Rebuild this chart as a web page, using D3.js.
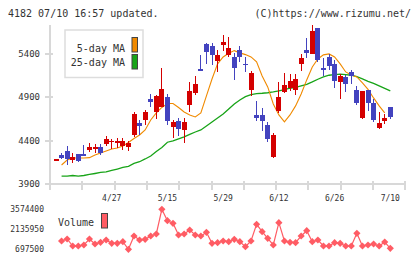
<!DOCTYPE html>
<html>
<head>
<meta charset="utf-8">
<script src="https://d3js.org/d3.v7.min.js"></script>
<style>
body { margin: 0; background: #fff; }
svg text { font-family: "DejaVu Sans Mono", monospace; fill: #333; }
</style>
</head>
<body>
<svg id="chart" width="420" height="259"></svg>
<script>
// daily prices, oldest first (index 0 = first candle)
const openP = [4185,4235,4281,4177,4246,4246,4293,4308,4331,4362,4381,4370,4339,4323,4466,4600,4639,4881,4735,4793,
  4901,4562,4631,4524,4808,4954,5228,5517,5493,5324,5505,5393,5366,5447,5285,4985,4697,4697,4581,4208,
  4743,4966,5004,4985,5289,5447,5405,5698,5236,5370,5285,5077,5139,5197,4985,4658,4985,4831,4550,4631,4785];
const highP = [4185,4261,4339,4254,4246,4350,4377,4362,4365,4454,4416,4428,4431,4400,4735,4639,4754,4939,4928,5236,
  4939,4639,4662,4658,5081,5147,5389,5532,5524,5447,5620,5594,5409,5493,5370,5204,4858,4774,4619,4493,
  5081,5185,5170,5170,5401,5582,5736,5698,5351,5397,5332,5170,5158,5216,5031,4974,4985,4881,4731,4708,4785];
const lowP = [4185,4185,4119,4139,4157,4227,4266,4254,4235,4339,4300,4312,4293,4285,4439,4466,4581,4785,4647,4793,
  4581,4427,4458,4377,4735,4928,5208,5285,5274,5197,5439,5362,5101,5305,5197,4916,4631,4516,4389,4197,
  4723,4954,4974,4928,5208,5351,5405,5312,5147,5216,5004,4881,4966,5054,4812,4650,4746,4619,4535,4593,4650];
const closeP = [4185,4204,4185,4212,4169,4227,4331,4323,4254,4420,4400,4400,4397,4370,4708,4570,4731,4850,4916,4993,
  4631,4612,4535,4612,4977,5054,5208,5424,5393,5393,5540,5470,5243,5370,5270,5185,4666,4631,4423,4466,
  4901,5043,5089,5108,5355,5416,5667,5332,5216,5266,5093,5147,5054,5147,4839,4974,4839,4639,4600,4662,4673];

// moving averages, from index 1
const ma5 = [null,4119,4177,4200,4200,4200,4204,4235,4258,4281,4304,4316,4339,4379,4425,4466,4524,4639,4720,4783,
  4829,4829,4783,4731,4697,4674,4720,4916,5112,5286,5366,5409,5439,5413,5393,5366,5309,5147,5020,4824,
  4697,4616,4697,4801,4939,5101,5251,5343,5390,5401,5366,5286,5193,5158,5135,5066,4991,4893,4801,4720,null];
const ma25 = [null,3992,3992,3998,3992,3998,4010,4021,4033,4039,4056,4073,4091,4104,4137,4157,4189,4223,4275,4321,
  4382,4397,4420,4443,4472,4500,4524,4570,4616,4662,4708,4766,4824,4870,4908,4931,4943,4947,4953,4962,
  4974,4989,5005,5014,5032,5049,5078,5109,5135,5155,5162,5167,5162,5155,5138,5112,5084,5061,5032,5003,4974];

const volume = [null,1294500,1438300,934800,934800,1006800,1438300,1078700,1201000,1366400,1129000,1129000,1244100,697500,1654100,1366400,1416600,1654100,1797900,3574400,
  2754500,2567500,1726000,1797900,2085600,1726000,1654100,1920200,1129000,1172200,1294500,1244100,1416700,1244100,884500,1294500,2495500,1963300,1488600,1006800,
  2610700,1294500,1201000,1172200,1654100,2035300,1244100,1366400,934800,934800,1172200,1129000,934800,934800,1848300,934800,1006800,1078700,934800,1222500,769400];

const dateLabels = ["4/27", "5/15", "5/29", "6/12", "6/26", "7/10"];
const dateIndex = [10, 20, 30, 40, 50, 60];
const priceTicks = [3900, 4400, 4900, 5400];
const volTicks = [697500, 2135950, 3574400];

const RED = "#d40000", BLUE = "#4343bf", ORANGE = "#f08a00", GREEN = "#18a418", VOL = "#ff5c64", AXIS = "#d8d8d8";

const svg = d3.select("#chart");
svg.append("rect").attr("width", 420).attr("height", 259).attr("fill", "#fff");

let x = d3.scaleLinear().domain([0, 60]).range([56, 390.3]);
let y = d3.scaleLinear().domain([3900, 5400]).range([184, 54]);
let yv = d3.scaleLinear().domain([697500, 3574400]).range([249.3, 209.3]);
let grid = d3.scaleLinear().domain([0, 11]).range([50, 405.3]);

// header
svg.append("text").attr("x", 8).attr("y", 16.5).attr("font-size", 10).text("4182 07/10 16:57 updated.");
svg.append("text").attr("x", 411).attr("y", 16.5).attr("font-size", 10).attr("text-anchor", "end").text("(C)https://www.rizumu.net/");

// axes
let axis = svg.append("g").attr("stroke", AXIS).attr("stroke-width", 2).attr("shape-rendering", "crispEdges");
axis.append("line").attr("x1", 50).attr("x2", 50).attr("y1", 25).attr("y2", 190);
axis.append("line").attr("x1", 45).attr("x2", grid(11)).attr("y1", y(3900)).attr("y2", y(3900));
axis.selectAll(".xt").data(d3.range(12)).join("line")
    .attr("x1", d => grid(d)).attr("x2", d => grid(d)).attr("y1", 181).attr("y2", 190);
axis.selectAll(".yt").data(priceTicks).join("line")
    .attr("x1", 45).attr("x2", 53).attr("y1", d => y(d)).attr("y2", d => y(d));

svg.selectAll(".plab").data(priceTicks).join("text")
    .attr("x", 40).attr("y", d => y(d)).attr("dy", "0.35em").attr("font-size", 9)
    .attr("text-anchor", "end").text(d => d);

svg.selectAll(".dlab").data(dateIndex).join("text")
    .attr("x", d => x(d)).attr("y", 200.5).attr("font-size", 8)
    .attr("text-anchor", "middle").text((d, i) => dateLabels[i]);

// legend
let leg = svg.append("g");
leg.append("rect").attr("x", 65).attr("y", 30).attr("width", 78).attr("height", 47.5)
    .attr("fill", "#fff").attr("stroke", "#ddd").attr("stroke-width", 1.5);
leg.append("text").attr("x", 125).attr("y", 51.5).attr("font-size", 10).attr("text-anchor", "end").text("5-day MA");
leg.append("text").attr("x", 125).attr("y", 66).attr("font-size", 10).attr("text-anchor", "end").text("25-day MA");
leg.append("rect").attr("x", 132).attr("y", 37.5).attr("width", 5.5).attr("height", 14.5)
    .attr("fill", ORANGE).attr("stroke", "#444").attr("stroke-width", 1);
leg.append("rect").attr("x", 132).attr("y", 54.5).attr("width", 5.5).attr("height", 14.5)
    .attr("fill", GREEN).attr("stroke", "#444").attr("stroke-width", 1);

// moving average lines
let maLine = d3.line().defined(d => d[1] != null).x(d => x(d[0])).y(d => y(d[1]));
svg.append("path").datum(ma25.map((v, i) => [i, v])).attr("d", maLine)
    .attr("fill", "none").attr("stroke", GREEN).attr("stroke-width", 1.3);
svg.append("path").datum(ma5.map((v, i) => [i, v])).attr("d", maLine)
    .attr("fill", "none").attr("stroke", ORANGE).attr("stroke-width", 1.1);

// candles
let candles = svg.append("g").attr("shape-rendering", "crispEdges");
let days = d3.range(openP.length);
let colorOf = i => closeP[i] >= openP[i] ? RED : BLUE;
candles.selectAll(".wick").data(days).join("line")
    .attr("x1", i => x(i)).attr("x2", i => x(i))
    .attr("y1", i => y(highP[i])).attr("y2", i => y(lowP[i]))
    .attr("stroke", colorOf).attr("stroke-width", 1);
candles.selectAll(".body").data(days).join("rect")
    .attr("x", i => x(i) - 2.5).attr("width", 5)
    .attr("y", i => y(Math.max(openP[i], closeP[i])))
    .attr("height", i => Math.max(1.2, Math.abs(y(openP[i]) - y(closeP[i]))))
    .attr("fill", colorOf);

// volume
svg.selectAll(".vlab").data(volTicks).join("text")
    .attr("x", 44).attr("y", d => yv(d)).attr("dy", "0.35em").attr("font-size", 8)
    .attr("text-anchor", "end").text(d => d);
svg.append("text").attr("x", 58).attr("y", 226).attr("font-size", 10).text("Volume");
svg.append("rect").attr("x", 101.5).attr("y", 213.5).attr("width", 6).attr("height", 14.5)
    .attr("fill", VOL).attr("stroke", "#444").attr("stroke-width", 1);

let volPts = volume.map((v, i) => [i, v]).filter(d => d[1] != null);
svg.append("path").datum(volPts)
    .attr("d", d3.line().x(d => x(d[0])).y(d => yv(d[1])))
    .attr("fill", "none").attr("stroke", VOL).attr("stroke-width", 1.2);
svg.selectAll(".vpt").data(volPts).join("path")
    .attr("transform", d => `translate(${x(d[0])},${yv(d[1])})`)
    .attr("d", "M0,-3.6L3.6,0L0,3.6L-3.6,0Z")
    .attr("fill", VOL);
</script>
</body>
</html>
